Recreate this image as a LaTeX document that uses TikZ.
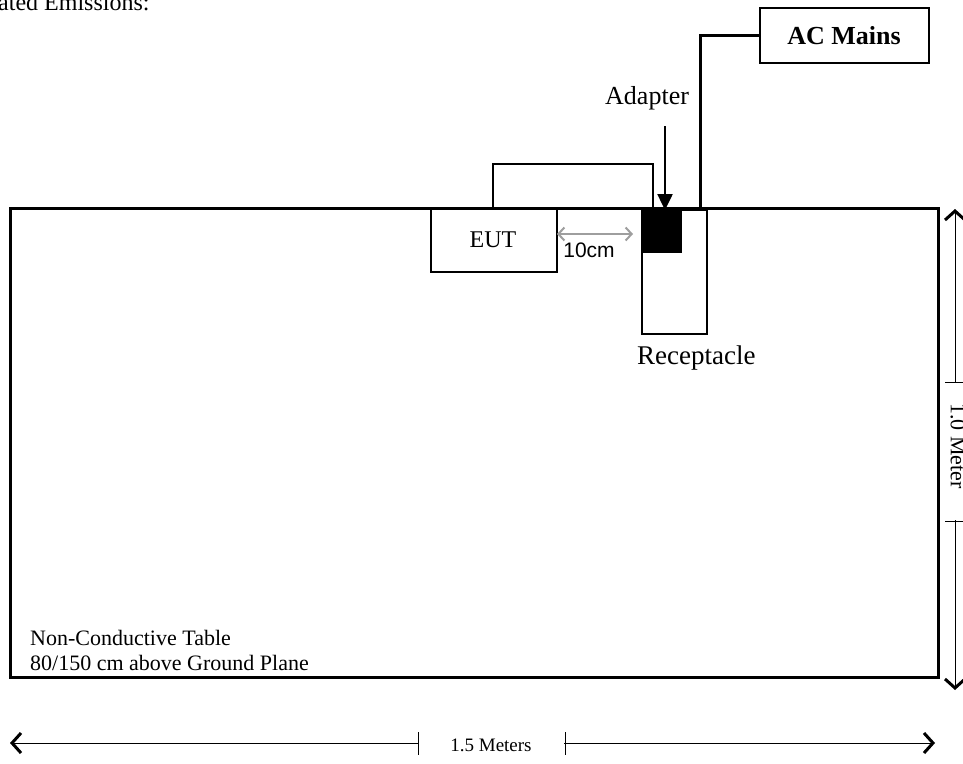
\documentclass[tikz,border=0pt]{standalone}
\usepackage{fontspec}
\setmainfont{Liberation Serif}
\newfontfamily\arialfont{Liberation Sans}
\usetikzlibrary{arrows.meta}
\tikzset{
  txt/.style={inner sep=0pt, font=\fontsize{26}{30}\selectfont},
  smalltxt/.style={inner sep=0pt, font=\fontsize{22}{25}\selectfont},
  thinbox/.style={draw, line width=1.5pt},
  thickline/.style={line width=3pt},
  dimtip/.tip={Straight Barb[length=9pt,width=20pt,line width=3pt]},
  dimline/.style={line width=1pt, dimtip-dimtip},
}
\begin{document}
\begin{tikzpicture}[x=1pt,y=-1pt]
\useasboundingbox (0,0) rectangle (963,763);
% heading (cut off)
\node[txt, font=\fontsize{24}{28}\selectfont, anchor=base west] (head) at (-2,10) {ated Emissions:};
% table
\draw[thickline] (10,208) rectangle (938,677);
% EUT
\node[thinbox, minimum width=126pt, minimum height=63pt, inner sep=0pt, anchor=north west] (eut) at (430,208) {};
\node[txt, font=\fontsize{24}{28}\selectfont, anchor=base] (eutl) at (493,247) {EUT};
% receptacle
\node[thinbox, minimum width=65pt, minimum height=124pt, inner sep=0pt, anchor=north west] (rec) at (641,209) {};
\node[txt, font=\fontsize{27}{30}\selectfont, anchor=base west] (recl) at (637,364) {Receptacle};
% adapter
\node[fill=black, minimum width=39pt, minimum height=43pt, inner sep=0pt, anchor=north west] (adp) at (643,210) {};
\node[txt, anchor=base west] (adpl) at (605,104) {Adapter};
\coordinate (adtop) at (665,126);
\draw[line width=2.5pt, -{Triangle[length=16pt,width=15pt]}] (adtop) -- (adp.north -| adtop);
% EUT cable
\coordinate (c1) at (493,208);
\coordinate (c2) at (653,208);
\draw[line width=1.5pt] (c1) -- (493,164) -- (653,164) -- (c2);
% AC Mains
\node[thinbox, minimum width=169pt, minimum height=55pt, inner sep=0pt, anchor=north west] (ac) at (759,7) {};
\node[txt, anchor=base, font=\fontsize{26}{30}\selectfont\bfseries] (acl) at (844,44) {AC Mains};
\coordinate (acin) at (700,208);
\draw[thickline] (acin) |- (ac.west);
% 10cm arrow
\coordinate (g1) at (557,234);
\coordinate (g2) at (633,234);
\draw[black!38, line width=2pt, {Straight Barb[length=6pt,width=13pt,line width=2pt]}-{Straight Barb[length=6pt,width=13pt,line width=2pt]}] (g1) -- (g2);
\node[inner sep=0pt, anchor=base, font=\arialfont\fontsize{21}{24}\selectfont] (tencm) at (589,257) {10cm};
% bottom text
\node[smalltxt, anchor=base west] (nct) at (30,645) {Non-Conductive Table};
\node[smalltxt, anchor=base west] (gp) at (30,670) {80/150 cm above Ground Plane};
% bottom dimension
\coordinate (bl) at (10,743);
\coordinate (br) at (935,743);
\draw[dimline] (bl) -- (br);
\fill[white] (419,735) rectangle (564,760);
\draw[line width=1pt] (418,732) -- (418,755) (565,732) -- (565,755);
\node[inner sep=0pt, anchor=base, font=\fontsize{19}{22}\selectfont] (ml) at (491,751) {1.5 Meters};
% right dimension
\coordinate (rt) at (955,209);
\coordinate (rb) at (955,690);
\draw[dimline] (rt) -- (rb);
\fill[white] (946,383) rectangle (963,520);
\draw[line width=1pt] (945,382) -- (963,382) (945,521) -- (963,521);
\node[inner sep=0pt, rotate=-90, font=\fontsize{22}{26}\selectfont] (vl) at (958,446) {1.0 Meter};
\end{tikzpicture}
\end{document}
